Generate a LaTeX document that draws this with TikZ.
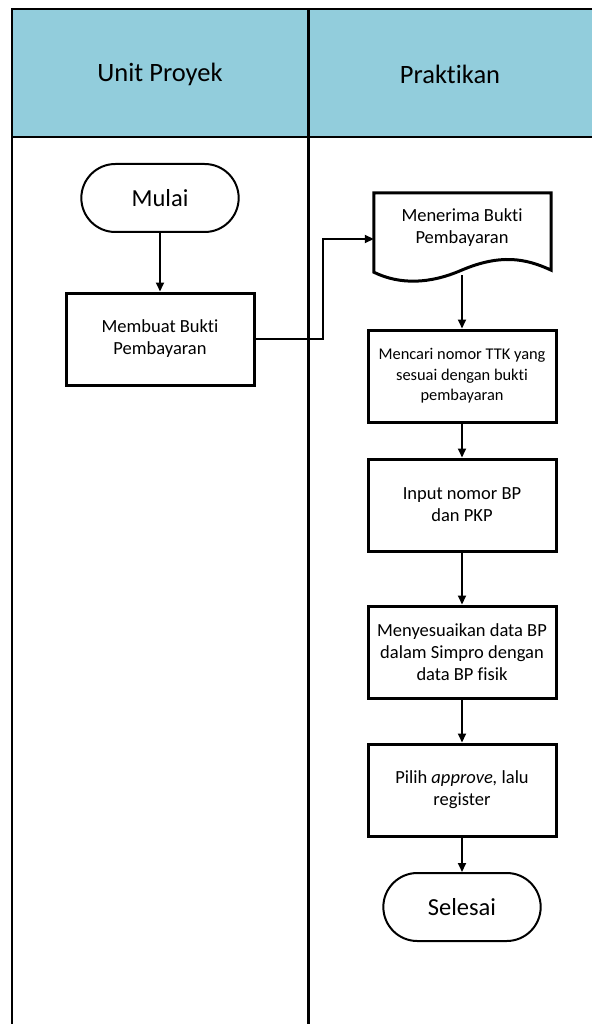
\documentclass[tikz,border=0pt]{standalone}
\usepackage{fontspec}
\setmainfont[Ligatures={NoCommon}]{Carlito}
\usetikzlibrary{arrows.meta,shapes.misc,calc}
\definecolor{hdr}{HTML}{92CDDC}
\tikzset{
  procbox/.style={draw, line width=3pt, rectangle, minimum width=188pt, minimum height=92pt, align=center, font=\fontsize{18.5}{22}\selectfont, inner sep=2pt},
  termbox/.style={draw, line width=2pt, rounded rectangle, minimum width=164pt, minimum height=68pt, font=\fontsize{24.5}{28}\selectfont},
  conn/.style={line width=1.8pt, -{Triangle[length=9pt,width=8pt]}},
  lane/.style={line width=2.4pt},
  hdrtext/.style={font=\fontsize{26.5}{30}\selectfont}
}
\begin{document}
\begin{tikzpicture}[x=1pt,y=-1pt]
\useasboundingbox (0,0) rectangle (592,1024);
% swimlanes
\fill[hdr] (12,9) rectangle (592,137);
\draw[lane] (592,9) -- (12,9) -- (12,1024);
\draw[lane] (12,137) -- (592,137);
\draw[line width=3pt] (308,9) -- (308,1024);
\node[hdrtext] (h1) at (160,74) {Unit Proyek};
\node[hdrtext] (h2) at (450,74) {Praktikan};
% left lane
\node[termbox] (mulai) at (160,198) {Mulai};
\node[procbox] (membuat) at (160,339) {Membuat Bukti\\Pembayaran};
% document
\node[minimum width=177pt, minimum height=79pt, inner sep=0pt] (doc) at (462.5,232.5) {};
\draw[line width=3pt, line join=miter]
  (doc.south west) -- (doc.north west) -- (doc.north east) -- ($(doc.south east)+(0,-2)$)
  .. controls (525,258) and (500,254) .. (462,270)
  .. controls (430,284) and (400,285) .. (doc.south west) -- cycle;
\node[align=center, font=\fontsize{18.5}{22}\selectfont] (doctext) at (462,228) {Menerima Bukti\\Pembayaran};
\coordinate (docb) at (462,275);
% right lane
\node[procbox, font=\fontsize{16.4}{20.5}\selectfont] (mencari) at (462,376) {Mencari nomor TTK yang\\sesuai dengan bukti\\pembayaran};
\node[procbox] (input) at (462,505) {Input nomor BP\\dan PKP};
\node[procbox] (sesuai) at (462,652) {Menyesuaikan data BP\\dalam Simpro dengan\\data BP fisik};
\node[procbox] (pilih) at (462,790) {Pilih \textit{approve,} lalu\\register};
\node[termbox] (selesai) at (462,907) {Selesai};
% connectors
\coordinate (bend) at (323,239);
\draw[conn] (mulai) -- (membuat);
\draw[conn] (membuat.east) -| (bend) -- (doc.west |- bend);
\draw[conn] (docb) -- (mencari.north);
\draw[conn] (mencari) -- (input);
\draw[conn] (input) -- (sesuai);
\draw[conn] (sesuai) -- (pilih);
\draw[conn] (pilih) -- (selesai);
\end{tikzpicture}
\end{document}
